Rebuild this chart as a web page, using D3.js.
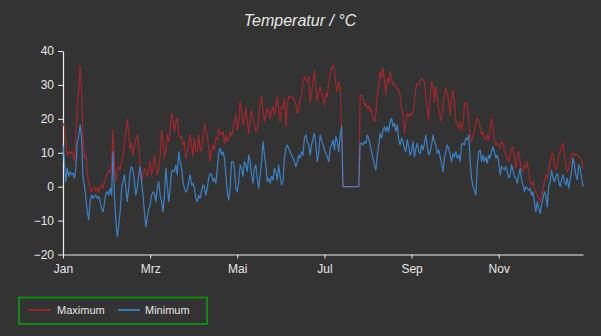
<!DOCTYPE html>
<html>
<head>
<meta charset="utf-8">
<script src="https://cdn.jsdelivr.net/npm/d3@7"></script>
<style>
  html, body { margin: 0; padding: 0; background: #333333; }
  svg { display: block; }
  text { font-family: "Liberation Sans", Arial, sans-serif; fill: #e6e6e6; }
</style>
</head>
<body>
<svg id="chart" width="601" height="336"></svg>
<script>
// Tageswerte (Tag 0 = 1. Januar)
const maxTemps = [
  18.7,17.7,14,9.3,10.3,9.8,10.3,9.3,7.4,15,
  24,29,35.4,28,14.3,8.4,9.3,3.5,1.5,-0.5,
  -1.5,-0.5,0,-1.5,-0.5,-1.5,0,0.5,-0.5,1.5,
  2.5,3.5,5,4,6.4,16.7,7.4,1.5,4.4,6,
  5,7.4,9.3,13.3,16.2,19.7,16.2,11.3,12.8,9.3,
  12.3,14.3,15.3,11.3,6.4,1.5,3.5,5.4,4.4,3,
  5.4,7.4,3.5,5.4,9.3,6.4,3.5,5,9.3,16.7,
  13.3,8.4,10.3,15.3,13.3,16.2,21.6,19.7,16.2,19.2,
  20.2,15.3,14.3,14.8,12.3,13.3,8.4,9.8,12.3,15.3,
  12.3,8.8,14.3,10.8,10.3,15.3,11.3,10.3,14.3,18.7,
  16.2,15.3,11.3,7.4,10.3,12.3,10.8,14.3,13.8,17.2,
  15.7,15.3,16.2,12.8,15.3,13.3,14.3,16.2,14.8,16.7,
  19.7,21.1,16.7,19.2,25.1,22.1,18.2,20.2,23.1,19.2,
  15.7,20.2,22.6,19.7,18.7,16.2,16.7,20.2,24.1,26.6,
  22.6,19.2,21.1,23.1,22.1,20.2,22.1,23.6,21.1,24.1,
  26.6,22.1,19.2,23.6,23.1,26.1,17.7,24.1,26.6,26.1,
  26.6,26.1,25.6,24.1,21.6,22.6,25.6,27,30.5,32.5,
  31.5,31,32.5,25.1,27.5,31,34.4,29.5,25.1,28,
  29.5,27.5,26.5,24,27.5,26.5,30.5,33.4,34.9,35.9,
  34.4,30,28,31,29,18.7,0,0,0,0,
  0,0,0,0,0,0,0,0,27,27,
  26,24,24.6,23,24,22,23,20,19.2,21.6,
  27,30,34,32,35,31,27,32,30.5,34,
  31.5,30,30.5,29.5,29,28.5,27,23,21,15.7,
  18.7,21.6,20.6,21.6,21,22,25,29,30.5,30,
  31,32,31.5,31,26,23,19.7,27,31,29.5,
  25,29.5,26,22.6,21,19.2,24,27,29,27.5,
  25,21,26,28.5,25,19.2,18.2,17.2,19.2,16.7,
  19.2,24,25,23.6,20.2,14.8,13.3,14.8,16.7,18.7,
  20.2,19.2,17.7,15.2,16.2,14.3,13.8,15.2,13.8,16.7,
  20.2,17.7,13.3,12.3,12.8,12.3,11.3,13.3,12.8,10.3,
  9.3,8.4,7.4,9.3,11.3,11.8,8.4,5.4,9.3,10.3,
  7.4,5.4,4.4,6.4,5.4,7.4,4.4,1.5,0.5,1.5,
  -0.5,-1.5,-2.5,-3.4,-4.4,-2.5,-0.5,1.5,3.5,2.5,
  4.9,7.4,9.3,9.8,6.4,4.9,6.4,9.3,10.3,11.8,
  12.8,9.3,6.4,4.4,5.4,7.4,9.3,9.8,9.3,9.8,
  9.3,8.8,8.4,7.9,5.4
];

const minTemps = [
  12.3,7.4,1.5,5.4,3,4.4,3.5,3.9,2.5,5.4,
  13.3,14.8,18.2,14.3,2.5,0.5,-3.4,-7.4,-9.8,-4.4,
  -2.5,-3.4,-2.9,-2.5,-3.4,-2.9,-4.4,-6.4,-7.4,-4.9,
  -2,-1.5,-2.5,-0.5,-2.5,10.3,-2.5,-10.3,-14.7,-11.3,
  -7.4,-0.5,1.5,3.5,-0.5,-4.4,-0.5,4.4,5.9,4.9,
  1.5,-2.5,-0.5,3.5,5.9,1.5,-2.5,-7.4,-11.8,-9.3,
  -6.4,-5.4,-2.5,-1.5,-2,-4.4,-0.5,1.5,-2.5,-4.4,
  -7.4,-2.5,5.4,0.5,-4.4,-0.5,4.4,4.9,4.4,6.4,
  3.5,10.3,7.4,5.4,1.5,-0.5,-1.5,-1,1.5,3.5,
  0.5,1,-0.5,-3.4,-4.4,-2.5,-3.4,-1.5,0.5,0,
  -2.5,-0.5,2.5,3.9,3.5,1.5,2.5,1,5.4,10.3,
  11.3,9.3,10.3,8.4,3.5,-1.5,-3.9,-0.5,7.4,7.4,
  5.4,-0.5,-1.5,1.5,6.4,5.4,3,7.4,6.4,4.4,
  9.3,7.4,3.5,1,5.4,6.4,2.5,-0.5,3.5,7.4,
  13.3,9.3,6.4,1.5,2.5,1,3,2,5.4,4.4,
  2,6.4,3,0.5,1.5,8.4,11.3,12.3,11.3,10.3,
  9.3,8.4,7.4,5.9,7.4,9.3,8.4,10.3,9.3,14.3,
  15.3,13.3,12.3,9.3,12.3,14.3,15.7,12.3,7.4,9.8,
  15.3,13.8,12.3,10.8,9.8,8.8,7.4,11.3,12.3,13.8,
  10.8,14.8,13.3,10.3,15.2,17.7,0,0,0,0,
  0,0,0,0,0,0,0,0,12.8,12.8,
  12.3,13.3,12.8,15.2,14.3,12.3,10.3,8.4,6.4,4.9,
  9.3,12.3,15.7,14.3,16.7,17.7,16.2,17.7,16.2,19.2,
  20.2,17.7,18.7,16.2,18.2,13.8,12.3,14.3,13.3,11.3,
  10.3,13.8,11.8,9.3,10.3,13.3,8.8,11.3,12.8,10.3,
  9.8,12.3,10.8,12.8,15.2,11.8,9.3,10.3,12.3,15.2,
  13.3,12.3,9.8,10.8,8.8,6.9,4.4,8.4,10.3,12.3,
  11.3,9.3,7.4,9.8,8.8,10.3,8.4,9.3,7.4,12.3,
  12.8,12.3,14.3,13.8,15.2,7.4,2.5,0,-1,-2.5,
  6.4,10.3,10.8,7.4,9.3,7.4,8.8,6.9,9.3,8.4,
  10.3,11.8,10.3,8.4,9.3,7.4,3.5,5.9,5.4,4.9,
  5.9,4.4,2.5,3.5,6.4,4.9,3,2.5,1,3.5,
  5.4,2,0.5,-1.5,0,-0.5,-1,-0.5,-2.5,-1.5,
  -4.4,-7.4,-4.4,-6.4,-7.9,-5.4,-3.4,-1.5,-2.5,-5.9,
  0,1.5,4.9,2.5,1.5,3,3.9,1.5,0,2,
  3.5,1.5,0.5,2.5,-0.5,2,4.4,8.4,6.4,3.5,
  2,6.4,5.4,2.5,0
];

const monthLabels = ["Jan", "Mrz", "Mai", "Jul", "Sep", "Nov"];
const monthTickDays = [0, 61, 122, 183, 244, 305];
const yTicks = [-20, -10, 0, 10, 20, 30, 40];
const seriesNames = ["Maximum", "Minimum"];
const seriesColors = ["#a8262b", "#3d8fe0"];

const svg = d3.select("#chart");
const plot = { left: 63, right: 583, top: 51, bottom: 254.5 };

const x = d3.scaleLinear()
  .domain([0, maxTemps.length - 1])
  .range([plot.left, plot.right]);

const y = d3.scaleLinear()
  .domain([-20, 40])
  .range([plot.bottom, plot.top]);

// Titel
svg.append("text")
  .attr("x", 300)
  .attr("y", 26)
  .attr("text-anchor", "middle")
  .style("font-size", "16px")
  .style("font-style", "italic")
  .text("Temperatur / °C");

// Achsen
const xAxis = d3.axisBottom(x)
  .tickValues(monthTickDays)
  .tickFormat((d, i) => monthLabels[i])
  .tickSizeInner(4)
  .tickSizeOuter(0)
  .tickPadding(6);

const yAxis = d3.axisLeft(y)
  .tickValues(yTicks)
  .tickSizeInner(5)
  .tickSizeOuter(0)
  .tickPadding(4);

const gx = svg.append("g")
  .attr("transform", `translate(0,${plot.bottom})`)
  .call(xAxis);

const gy = svg.append("g")
  .attr("transform", `translate(${plot.left},0)`)
  .call(yAxis);

[gx, gy].forEach(g => {
  g.select(".domain").attr("stroke", "#eeeeee").attr("stroke-width", 1.2);
  g.selectAll(".tick line").attr("stroke", "#eeeeee");
  g.selectAll(".tick text")
    .style("font-size", "12px")
    .style("font-family", "\"Liberation Sans\", Arial, sans-serif")
    .attr("fill", "#e6e6e6");
});

// Linien: Maximum unten, Minimum leicht transparent darüber
const line = d3.line()
  .x((d, i) => x(i))
  .y(d => y(d));

[maxTemps, minTemps].forEach((series, k) => {
  svg.append("path")
    .datum(series)
    .attr("fill", "none")
    .attr("stroke", seriesColors[k])
    .attr("stroke-width", 1.2)
    .attr("stroke-opacity", k === 1 ? 0.85 : 0.95)
    .attr("stroke-linejoin", "round")
    .attr("d", line);
});

// Legende
const legend = svg.append("g");
legend.append("rect")
  .attr("x", 19)
  .attr("y", 297.5)
  .attr("width", 188)
  .attr("height", 26.5)
  .attr("fill", "none")
  .attr("stroke", "#118811")
  .attr("stroke-width", 2);

const legendItems = [
  { x1: 28, x2: 51, tx: 57 },
  { x1: 118, x2: 140, tx: 145 }
];
legendItems.forEach((it, k) => {
  legend.append("line")
    .attr("x1", it.x1).attr("x2", it.x2)
    .attr("y1", 310).attr("y2", 310)
    .attr("stroke", seriesColors[k])
    .attr("stroke-width", 1.5);
  legend.append("text")
    .attr("x", it.tx)
    .attr("y", 314)
    .style("font-size", "11px")
    .text(seriesNames[k]);
});
</script>
</body>
</html>
